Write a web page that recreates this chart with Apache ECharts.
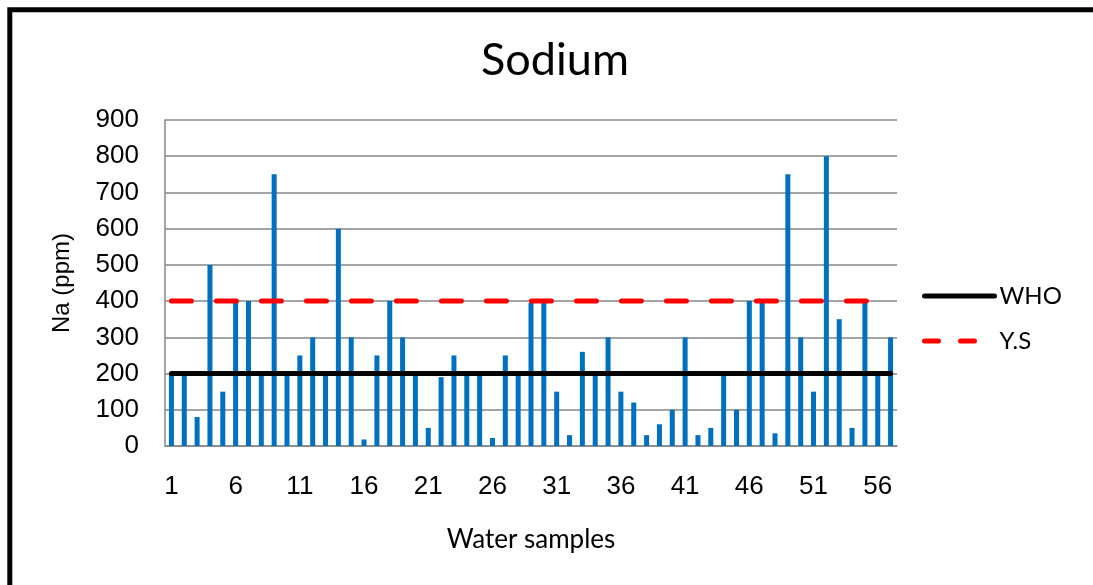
<!DOCTYPE html>
<html>
<head>
<meta charset="utf-8">
<script src="https://cdn.jsdelivr.net/npm/echarts@6/dist/echarts.min.js"></script>
<style>
  html, body { margin: 0; padding: 0; background: #ffffff; }
  #chart { width: 1093px; height: 585px; }
</style>
</head>
<body>
<div id="chart"></div>
<script>
// Sample numbers along the x axis
const categories = ['1','2','3','4','5','6','7','8','9','10','11','12','13','14','15','16','17','18','19','20',
  '21','22','23','24','25','26','27','28','29','30','31','32','33','34','35','36','37','38','39','40',
  '41','42','43','44','45','46','47','48','49','50','51','52','53','54','55','56','57'];

// Sodium concentration per sample (ppm)
const sodium = [200, 200, 80, 500, 150, 395, 400, 200, 750, 200,
  250, 300, 200, 600, 300, 18, 250, 400, 300, 195,
  50, 190, 250, 200, 200, 22, 250, 200, 395, 395,
  150, 30, 260, 200, 300, 150, 120, 30, 60, 100,
  300, 30, 50, 200, 100, 400, 395, 35, 750, 300,
  150, 800, 350, 50, 400, 200, 300];

// Guideline limits (ppm)
const whoLimit = 200;
const ysLimit = 400;

const yTicks = { min: 0, max: 900, step: 100 };

const humanist = "Lato, 'Open Sans', sans-serif";
const arial = "'Liberation Sans', Arial, sans-serif";

const chart = echarts.init(document.getElementById('chart'), null, { renderer: 'canvas' });

chart.setOption({
  animation: false,
  backgroundColor: '#ffffff',
  title: {
    text: 'Sodium',
    left: 550,
    top: 33,
    textAlign: 'center',
    textStyle: { fontFamily: humanist, fontSize: 45, fontWeight: 'normal', color: '#000000' }
  },
  graphic: [{
    type: 'rect',
    shape: { x: 9.8, y: 9.8, width: 2000, height: 2000 },
    style: { fill: null, stroke: '#000000', lineWidth: 5 },
    silent: true
  }],
  legend: {
    orient: 'vertical',
    left: 917,
    top: 279,
    itemWidth: 70,
    itemHeight: 20,
    itemGap: 21,
    itemStyle: { opacity: 0 },
    lineStyle: { width: 5 },
    data: [
      { name: 'WHO' },
      { name: 'Y.S', lineStyle: { width: 5, type: [14, 22] } }
    ],
    textStyle: { fontFamily: humanist, fontSize: 24, color: '#000000' }
  },
  grid: { left: 165, right: 196, top: 120, bottom: 139, containLabel: false },
  xAxis: {
    type: 'category',
    data: categories,
    boundaryGap: true,
    name: 'Water samples',
    nameLocation: 'middle',
    nameGap: 81,
    nameTextStyle: { fontFamily: humanist, fontSize: 26, color: '#000000' },
    axisLine: { lineStyle: { color: '#868686', width: 1.5 } },
    axisTick: { show: false },
    axisLabel: {
      interval: 4,
      margin: 28,
      fontFamily: arial,
      fontSize: 26,
      color: '#000000'
    },
    splitLine: { show: false }
  },
  yAxis: {
    type: 'value',
    min: yTicks.min,
    max: yTicks.max,
    interval: yTicks.step,
    name: 'Na (ppm)',
    nameLocation: 'middle',
    nameGap: 91,
    nameRotate: 90,
    nameTextStyle: { fontFamily: arial, fontSize: 24, color: '#000000' },
    axisLine: { show: true, lineStyle: { color: '#868686', width: 1.5 } },
    axisTick: { show: false },
    axisLabel: { margin: 26, fontFamily: arial, fontSize: 26, color: '#000000' },
    splitLine: { show: true, lineStyle: { color: '#868686', width: 1.5 } }
  },
  series: [
    {
      name: 'Na',
      type: 'bar',
      data: sodium,
      barWidth: 5,
      itemStyle: { color: '#0070C0' },
      z: 2
    },
    {
      name: 'WHO',
      type: 'line',
      data: categories.map(() => whoLimit),
      symbol: 'none',
      lineStyle: { color: '#000000', width: 5, cap: 'round' },
      itemStyle: { color: '#000000' },
      z: 4
    },
    {
      name: 'Y.S',
      type: 'line',
      data: categories.map(() => ysLimit),
      symbol: 'none',
      lineStyle: { color: '#FF0000', width: 5, type: [20, 25], cap: 'round' },
      itemStyle: { color: '#FF0000' },
      z: 3
    }
  ]
});
</script>
</body>
</html>
